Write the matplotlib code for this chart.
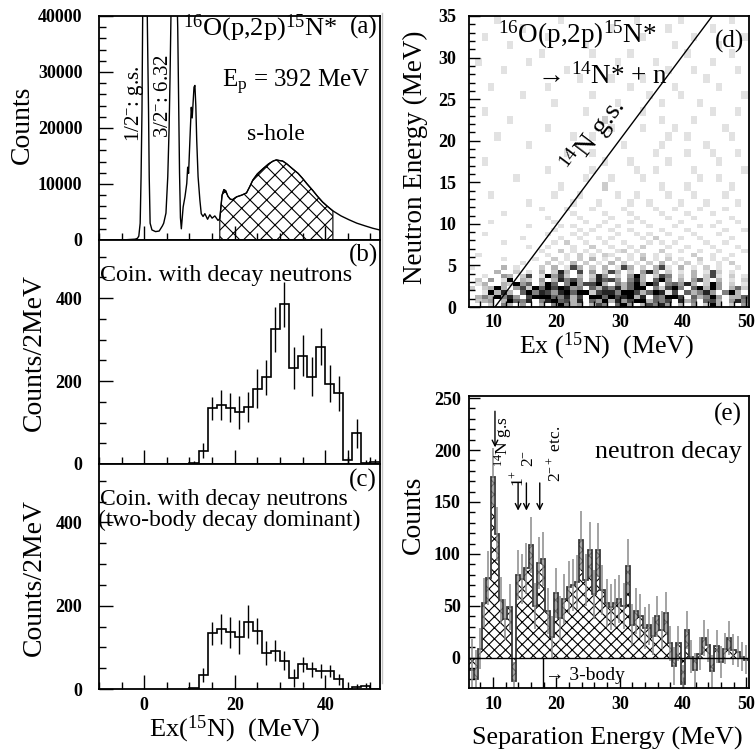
import numpy as np
import matplotlib
matplotlib.use("Agg")
import matplotlib.pyplot as plt
from matplotlib.ticker import MultipleLocator
from matplotlib.lines import Line2D
from matplotlib.colors import ListedColormap

plt.rcParams["font.family"] = ["Liberation Serif", "DejaVu Serif"]
plt.rcParams["mathtext.fontset"] = "custom"
plt.rcParams["mathtext.rm"] = "Liberation Serif"
plt.rcParams["mathtext.it"] = "Liberation Serif:italic"
plt.rcParams["mathtext.bf"] = "Liberation Serif:bold"
plt.rcParams["hatch.linewidth"] = 0.8
plt.rcParams["hatch.color"] = "black"

# ---- (a) inclusive 16O(p,2p) excitation spectrum ----
ex_a = [-10, -4, -2, -1.5, -1.2, -0.9, -0.7, -0.5, -0.3, 0.0, 0.4, 0.7, 0.95, 1.1, 1.3,
        1.7, 2.5, 3.3, 4.0, 4.3, 4.8, 5.2, 5.5, 5.7, 6.0, 6.6, 7.2, 7.4, 7.6, 7.8,
        8.0, 8.2, 8.6, 9.0, 9.4, 9.6, 9.8, 10.2, 10.4, 10.6, 11.0, 11.2, 11.4, 11.6, 11.9,
        12.3, 12.6, 13.0, 13.4, 14.0, 14.5, 15.0, 15.6, 16.3, 16.7, 17.2, 17.6, 18.0, 18.5,
        19.0, 19.5, 20.4, 21.5, 22.6, 23.3, 24.0, 25.0, 26.2, 27.5, 28.5, 29.2, 29.8, 30.6,
        31.5, 32.8, 34.0, 35.0, 36.0, 37.2, 38.3, 39.4, 40.5, 41.7, 43.5, 45.3, 47.0, 48.9,
        50.5, 52.0]
counts_a = [0, 50, 150, 300, 700, 3000, 11300, 23100, 45000, 90000, 60000, 38000, 23000, 11300, 3000,
            1800, 1500, 1600, 2500, 3000, 4800, 11300, 20100, 29000, 45000, 80000, 45000, 38000, 25000, 12000,
            4000, 2000, 5900, 7700, 10100, 13000, 11900, 20000, 23700, 21800, 27300, 27600, 24000, 17800, 11300,
            7100, 4700, 4200, 4700, 3700, 4500, 3900, 4300, 3500, 3800, 8000, 9000, 8800, 7800,
            7300, 7200, 7700, 8000, 8400, 9500, 10700, 11800, 12700, 13600, 14100, 14300, 14200, 14100,
            13600, 12700, 11900, 11000, 10000, 8900, 7800, 6800, 6000, 5200, 4300, 3600, 3000, 2500,
            2100, 1800]
hole_lo, hole_hi = 16.7, 41.7

# ---- (b), (c) coincidence spectra, 2 MeV bins from 10 MeV ----
bin_lo_bc, bin_w_bc = 10, 2
counts_b = [3, 32, 134, 142, 136, 125, 138, 182, 209, 325, 385, 232, 261, 210, 283, 194, 170, 10, 74, 2, 4]
err_b = [5, 18, 28, 36, 34, 40, 36, 48, 42, 54, 54, 51, 50, 47, 45, 44, 43, 24, 35, 8, 8]
counts_c = [2, 34, 134, 144, 136, 125, 162, 140, 86, 92, 68, 26, 60, 48, 43, 43, 23, 1, 6, 8, 0]
err_c = [0, 16, 28, 36, 37, 40, 39, 31, 29, 25, 23, 22, 18, 18, 17, 15, 14, 0, 6, 6, 0]

# ---- (d) Ex vs neutron energy, grey level 0-9, top row first ----
# columns: 1 MeV wide from 6.2 MeV; rows: 1 MeV above 12 MeV, 0.5 MeV below
grid_d = [
    "00001000000 00010000000 00001000000 10000000100",  # 34-35
    "00000000100 00000000000 10000000010 00000100000",
    "00100000000 01000000000 00000100000 00100000001",
    "00000010000 00000001000 00000000001 00000010000",
    "00000000000 10000000100 00010000000 01000000100",  # 30-31
    "01000000010 00000000000 01000001000 00000100000",
    "00000100000 00001000000 00000000010 00100000010",
    "00000000000 00000010000 10000100000 00001000000",
    "00010000000 01000000000 00010000001 00000010000",
    "00000000100 00000000100 00000010000 10000000001",  # 25-26
    "00000000000 00100000000 01000000100 00010000000",
    "00100000000 00000001000 00000100000 00000100010",
    "00000010000 00000000002 00000000100 00100000000",
    "00000000000 01000000000 10000100001 00000001000",
    "00001000000 00000100100 00000000010 01000000100",  # 20-21
    "00000000010 00000000000 00100000100 00001000000",
    "00000000000 00001000100 00000001000 01000100010",
    "00100000000 00000000001 00010000010 00000010000",
    "00000000000 01000000100 00001001000 00100000001",
    "00000001000 00000001000 10000100000 00010010000",  # 15-16
    "00000000000 00010000002 00000000100 01000000100",
    "00010000000 00100010000 01001000010 00100001000",
    "00000000010 00000100010 00010010000 10001000010",  # 12-13
    "00000000000 10001000100 00100001001 00010001000",  # 11.5-12
    "00000100000 00000100001 00010000100 01000100000",
    "00000000000 01000010000 10001000010 00100000100",
    "00010000000 00100001001 00010100000 10000010010",  # 10-10.5
    "00000000010 00010100010 01000010001 00010100000",
    "00000000000 00100010100 10010000100 01000001001",
    "00100000000 01000101000 01001010010 00100010000",
    "00000000100 00010010010 10000102000 10010000100",  # 8-8.5
    "00000100000 00102001001 00100010101 00001001000",
    "00000000010 01000100200 10010200010 01000100010",
    "00000000000 10020101010 01201000200 10010010001",
    "01000000000 01001020102 10010201010 00200100100",  # 6-6.5
    "00000100001 00201020301 02010301020 10020101000",
    "00000000100 02010302010 30201020301 02010010200",
    "10000301000 20301730203 01730203710 30102010010",
    "00003002010 30283070402 73020483020 10301720100",  # 4-4.5
    "00100430270 19472030284 02049302750 20302710201",
    "02040190320 40385740386 74058306940 30472030102",
    "01300329460 39605947793 05369497056 48302940201",
    "20239304729 69798450637 58369905279 50693940362",  # 2-2.5
    "00193830695 87489699278 85997369817 06358405930",
    "03539584079 99658370996 97893806599 70635940336",
    "02340396580 58967380649 38479936570 83506730485",
    "00020530400 30595340375 06940375840 30402930204",  # 0-0.5
]
grey_levels = ["#ffffff", "#e2e2e2", "#cccccc", "#b4b4b4", "#9a9a9a",
               "#808080", "#636363", "#454545", "#242424", "#000000"]
ex_d_start, ex_d_step = 6.2, 1.0
gs_line_ex = [10.3, 44.6]
gs_line_en = [0, 35]

# ---- (e) separation energy spectrum, 2/3 MeV bins from 6.27 MeV ----
bin_lo_e, bin_w_e = 6.27, 2 / 3
counts_e = [-12, -20, 9, 53, 77, 174, 119, 56, 37, 49,
            -22, 80, 76, 86, 109, 50, 91, 95, 45, 20,
            62, 38, 57, 68, 70, 73, 113, 75, 104, 61,
            104, 65, 53, 49, 53, 57, 50, 88, 32, 45,
            40, 29, 32, 21, 40, 27, 43, 14, -8, 14,
            -25, 27, 1, -12, 4, 19, 12, -13, 11, -4,
            9, 19, 8, 6, 1, -2]
err_e = [30, 28, 20, 24, 26, 28, 26, 22, 20, 22,
         18, 24, 24, 25, 27, 22, 25, 26, 22, 20,
         24, 22, 24, 25, 25, 26, 28, 25, 27, 24,
         26, 24, 23, 22, 23, 23, 22, 26, 20, 22,
         21, 20, 20, 18, 20, 18, 20, 17, 18, 17,
         18, 18, 16, 17, 16, 17, 16, 16, 16, 15,
         15, 16, 15, 15, 14, 14]
arrow_gs = 10.3
arrows_exc = [13.95, 15.26, 17.37]
three_body = 17.9

W, H = 755, 751
fig = plt.figure(figsize=(W / 100, H / 100), dpi=100)


def fx(x):
    return x / W


def fy(y):
    return 1 - y / H


def put(x, y, s, size=17, **kw):
    kw.setdefault("ha", "center")
    kw.setdefault("va", "center")
    fig.text(fx(x), fy(y), s, fontsize=size, **kw)


def style(ax, xmaj, xmin, ymaj, ymin, big=True):
    ax.xaxis.set_major_locator(MultipleLocator(xmaj))
    ax.xaxis.set_minor_locator(MultipleLocator(xmin))
    ax.yaxis.set_major_locator(MultipleLocator(ymaj))
    ax.yaxis.set_minor_locator(MultipleLocator(ymin))
    L = 10 if big else 8
    ax.tick_params(which="major", direction="in", length=L, width=1.0, labelsize=13,
                   top=False, right=False)
    ax.tick_params(which="minor", direction="in", length=L / 2, width=1.0,
                   top=False, right=False)
    for sp in ax.spines.values():
        sp.set_linewidth(1.3)
    for lab in ax.get_xticklabels() + ax.get_yticklabels():
        lab.set_fontweight("bold")


# ---------- (a) ----------
ax_a = fig.add_axes([fx(99), fy(240), 280.5 / W, 224 / H])
xa = np.array(ex_a, dtype=float)
ya = np.array(counts_a, dtype=float)
m = (xa >= hole_lo) & (xa <= hole_hi)
ax_a.fill_between(xa[m], 0, ya[m], facecolor="none", edgecolor="k", hatch="xx", lw=0.8)
ax_a.plot(xa, ya, color="k", lw=1.0)
ax_a.set_xlim(-10, 52)
ax_a.set_ylim(0, 40000)
style(ax_a, 20, 5, 10000, 2000)
ax_a.tick_params(axis="y", pad=12)
ax_a.tick_params(labelbottom=False)

# ---------- (b) and (c) ----------
edges_bc = bin_lo_bc + bin_w_bc * np.arange(len(counts_b) + 1)
cent_bc = edges_bc[:-1] + bin_w_bc / 2
ax_b = fig.add_axes([fx(99), fy(464), 280.5 / W, 224 / H])
ax_c = fig.add_axes([fx(99), fy(689), 280.5 / W, 225 / H])
for ax, cts, err in [(ax_b, counts_b, err_b), (ax_c, counts_c, err_c)]:
    ax.stairs(cts, edges_bc, baseline=0, color="k", lw=1.2)
    ax.errorbar(cent_bc, cts, yerr=err, fmt="none", ecolor="k", elinewidth=1.0, capsize=0)
    ax.set_xlim(-10, 52)
    ax.set_ylim(0, 540)
    style(ax, 20, 5, 200, 50)
    ax.tick_params(axis="y", pad=12)
    ax.tick_params(axis="x", pad=6)
ax_b.tick_params(labelbottom=False)

# ---------- (d) ----------
ax_d = fig.add_axes([fx(469), fy(307), 280 / W, 291 / H])
rows = [r.replace(" ", "").ljust(44, "0")[:44] for r in grid_d[::-1]]
Z = np.array([[int(ch) for ch in r] for r in rows], dtype=float)
xe_d = ex_d_start + ex_d_step * np.arange(Z.shape[1] + 1)
ye_d = np.concatenate([np.arange(0, 12.01, 0.5), np.arange(13, 35.01, 1.0)])
ax_d.pcolormesh(xe_d, ye_d, Z, cmap=ListedColormap(grey_levels), vmin=-0.5, vmax=9.5,
                shading="flat")
ax_d.plot(gs_line_ex, gs_line_en, color="k", lw=1.0)
ax_d.set_xlim(6.2, 50.4)
ax_d.set_ylim(0, 35)
style(ax_d, 10, 2, 5, 1, big=False)
ax_d.tick_params(axis="y", pad=9)
ax_d.tick_params(axis="x", pad=5)

# ---------- (e) ----------
ax_e = fig.add_axes([fx(469), fy(688), 280 / W, 292 / H])
edges_e = bin_lo_e + bin_w_e * np.arange(len(counts_e) + 1)
cent_e = edges_e[:-1] + bin_w_e / 2
ax_e.stairs(counts_e, edges_e, baseline=0, fill=True, facecolor="none",
            edgecolor="k", hatch="xxx", lw=0)
ax_e.errorbar(cent_e, counts_e, yerr=err_e, fmt="none", ecolor="#8a8a8a",
              elinewidth=1.1, capsize=0)
ax_e.stairs(counts_e, edges_e, baseline=None, color="#3a3a3a", lw=1.3)
ax_e.axhline(0, color="k", lw=1.0)
ax_e.plot([three_body, three_body], [-29, 0], color="k", lw=1.0)
ax_e.annotate("", xy=(arrow_gs, 200), xytext=(arrow_gs, 240),
              arrowprops=dict(arrowstyle="->", color="k", lw=1.0))
for e in arrows_exc:
    ax_e.annotate("", xy=(e, 139), xytext=(e, 171),
                  arrowprops=dict(arrowstyle="->", color="k", lw=1.0))
ax_e.set_xlim(6.2, 50.4)
ax_e.set_ylim(-29, 252)
style(ax_e, 10, 2, 50, 10, big=False)
ax_e.tick_params(axis="y", pad=6)
ax_e.tick_params(axis="x", pad=6)

# ---------- texts ----------
put(22, 125, "Counts", 20, rotation=90)
put(34, 352, "Counts/2MeV", 20, rotation=90)
put(34, 577, "Counts/2MeV", 20, rotation=90)
put(234, 729, "Ex($^{15}$N)  (MeV)", 19)

put(183, 28, "$^{16}$O(p,2p)$^{15}$N*", 19, ha="left")
put(364, 27, "(a)", 18)
put(222, 82, "E$_\\mathrm{p}$ = 392 MeV", 18, ha="left")
put(276, 134, "s-hole", 17)
put(134, 104, "1/2$^{-}$: g.s.", 15, rotation=90)
put(163, 96, "3/2$^{-}$: 6.32", 15, rotation=90)

put(364, 255, "(b)", 18)
put(100, 275, "Coin. with decay neutrons", 17.3, ha="left")
put(363, 480, "(c)", 18)
put(100, 499, "Coin. with decay neutrons", 17, ha="left")
put(98, 520, "(two-body decay dominant)", 17, ha="left")

put(415, 157, "Neutron Energy (MeV)", 19.5, rotation=90)
put(607, 346, "Ex ($^{15}$N)  (MeV)", 18.7)
put(498, 35, "$^{16}$O(p,2p)$^{15}$N*", 19.5, ha="left")
put(730, 41, "(d)", 18)
put(537, 76, "\u2192 $^{14}$N* + n", 19.5, ha="left")
put(594, 136, "$^{14}$N g.s.", 20, rotation=53)

put(413, 515, "Counts", 20, rotation=90)
put(607, 738, "Separation Energy (MeV)", 18.8)
put(728, 414, "(e)", 18)
put(668, 452, "neutron decay", 18.7)
put(545, 675, "\u2192 3-body", 14, ha="left")
put(503, 442, "$^{14}$N g.s", 12.5, rotation=90)
put(518, 478, "1$^{+}$", 12.5, rotation=90)
put(529, 458, "2$^{-}$", 12.5, rotation=90)
put(555, 454, "2$^{-+}$ etc.", 12.5, rotation=90)

fig.add_artist(Line2D([fx(381.5)] * 2, [fy(13), fy(683)], color="#c4c4c4", lw=1.0))

fig.savefig("out.png", dpi=100)
